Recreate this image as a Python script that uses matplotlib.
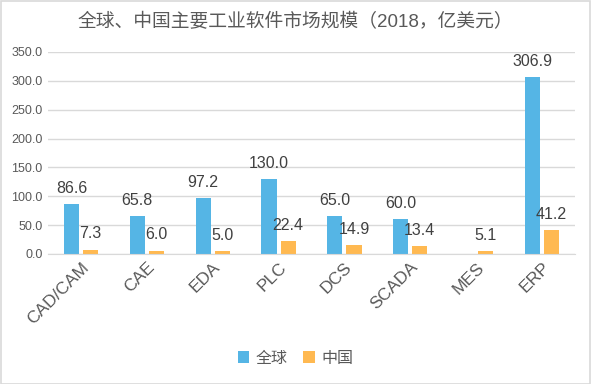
import numpy as np
import matplotlib
matplotlib.use("Agg")
import matplotlib.pyplot as plt
from matplotlib.patches import Rectangle

plt.rcParams['font.family'] = ['Liberation Sans', 'Noto Sans CJK SC', 'DejaVu Sans']

categories = ["CAD/CAM", "CAE", "EDA", "PLC", "DCS", "SCADA", "MES", "ERP"]
global_vals = [86.6, 65.8, 97.2, 130.0, 65.0, 60.0, np.nan, 306.9]
china_vals = [7.3, 6.0, 5.0, 22.4, 14.9, 13.4, 5.1, 41.2]
series_names = ["全球", "中国"]
title = "全球、中国主要工业软件市场规模（2018，亿美元）"

c_blue = "#55B5E5"
c_orange = "#FFB951"
txt = "#595959"
grid = "#D9D9D9"

fig = plt.figure(figsize=(5.91, 3.84), dpi=100)
ax = fig.add_axes([48/591, 1-254/384, (575-48)/591, (254-52)/384])

x = np.arange(len(categories))
w = 0.23
off = 0.145
b1 = ax.bar(x - off, global_vals, w, color=c_blue, label=series_names[0])
b2 = ax.bar(x + off, china_vals, w, color=c_orange, label=series_names[1])

for xs, vals in ((x - off, global_vals), (x + off, china_vals)):
    for xi, v in zip(xs, vals):
        if np.isnan(v):
            continue
        ax.annotate(f"{v:.1f}", (xi, v), xytext=(0, 6), textcoords="offset points",
                    ha="center", va="bottom", fontsize=11.5, color="#404040")

ax.set_ylim(0, 350)
ax.set_xlim(-0.5, len(categories) - 0.5)
ax.set_yticks(np.arange(0, 351, 50))
ax.set_yticklabels([f"{t:.1f}" for t in np.arange(0, 351, 50)])
ax.yaxis.grid(True, color=grid, linewidth=1)
ax.set_axisbelow(True)
for s in ["top", "right", "left"]:
    ax.spines[s].set_visible(False)
ax.spines["bottom"].set_color(grid)
ax.tick_params(axis="y", length=0, labelsize=9, colors=txt, pad=4)
ax.tick_params(axis="x", length=0, labelsize=12.5, colors=txt, pad=4)
ax.set_xticks(x)
ax.set_xticklabels(categories, rotation=45, ha="right", rotation_mode="anchor")

fig.text(0.5, 1-22/384, title, ha="center", va="center", fontsize=13.5, color=txt)

leg = fig.legend(handles=[b1, b2], labels=series_names, loc="center",
                 bbox_to_anchor=(0.5, 1-358/384), ncol=2, frameon=False,
                 fontsize=11.5, handlelength=0.7, handleheight=0.7,
                 handletextpad=0.4, columnspacing=1.0)
for t in leg.get_texts():
    t.set_color(txt)

fig.patches.append(Rectangle((0.5/591, 0.5/384), 1-1.5/591, 1-1.5/384, transform=fig.transFigure,
                             fill=False, edgecolor=grid, linewidth=1.2))

fig.savefig("out.png", dpi=100)
